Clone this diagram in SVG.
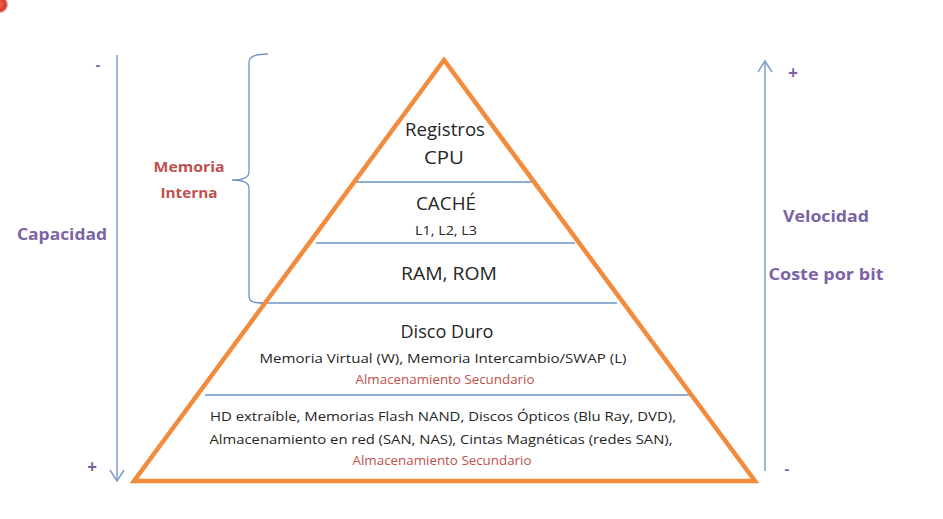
<svg xmlns="http://www.w3.org/2000/svg" width="943" height="519" viewBox="0 0 943 519">
  <style>
    .t { font-family: "Open Sans", "Liberation Sans", sans-serif; fill: #262626; text-anchor: middle; }
    .big { font-size: 17.5px; }
    .mid { font-size: 13.5px; }
    .sm { font-size: 12.5px; }
    .red { font-family: "Open Sans", "Liberation Sans", sans-serif; fill: #C0504D; text-anchor: middle; }
    .pur { font-family: "Open Sans", "Liberation Sans", sans-serif; fill: #7B63A4; font-weight: bold; text-anchor: middle; }
    .sep { stroke: #6F93C6; stroke-width: 1.3; fill: none; }
    .axis { stroke: #7F9FCF; stroke-width: 1.5; fill: none; }
  </style>
  <defs>
    <radialGradient id="dot" cx="0.45" cy="0.45" r="0.6">
      <stop offset="0" stop-color="#f36a50"/>
      <stop offset="0.7" stop-color="#d8372b"/>
      <stop offset="1" stop-color="#f0a090" stop-opacity="0.4"/>
    </radialGradient>
  </defs>

  <rect width="943" height="519" fill="#ffffff"/>

  <!-- pointer dot in the corner -->
  <circle cx="0" cy="5" r="8" fill="url(#dot)"/>

  <!-- axes and the bracket -->
  <g id="connectors">
    <line class="axis" x1="117" y1="55" x2="117" y2="481"/>
    <polyline class="axis" points="110,470 117,481 124,470"/>
    <line class="axis" x1="765" y1="471" x2="765" y2="61"/>
    <polyline class="axis" points="758,72 765,61 772,72"/>
    <path class="sep" d="M268,54 C256,54 249,56 249,62 L249,172 C249,177 245,180 232,180 C245,180 249,183 249,188 L249,296 C249,301 252,303 262,303"/>
  </g>

  <!-- pyramid outline -->
  <g id="pyramid">
    <line class="sep" x1="355" y1="182" x2="535" y2="182"/>
    <line class="sep" x1="316" y1="243" x2="575" y2="243"/>
    <line class="sep" x1="260" y1="303" x2="617" y2="303"/>
    <line class="sep" x1="205" y1="395" x2="690" y2="395"/>
    <polygon points="444,60 134,481 755,481" fill="none" stroke="#F38B3C" stroke-width="4.5" stroke-linejoin="miter"/>
  </g>

  <g id="registros">
    <text class="t big" x="445" y="136" textLength="80" lengthAdjust="spacingAndGlyphs">Registros</text>
    <text class="t big" x="444" y="164" textLength="40" lengthAdjust="spacingAndGlyphs">CPU</text>
  </g>

  <g id="cache">
    <text class="t big" x="446" y="210" textLength="60" lengthAdjust="spacingAndGlyphs">CACHÉ</text>
    <text class="t sm" x="446" y="235" textLength="62" lengthAdjust="spacingAndGlyphs">L1, L2, L3</text>
  </g>

  <g id="ram">
    <text class="t big" x="449" y="280" textLength="96" lengthAdjust="spacingAndGlyphs">RAM, ROM</text>
  </g>

  <g id="disco">
    <text class="t big" x="447" y="338" textLength="93" lengthAdjust="spacingAndGlyphs">Disco Duro</text>
    <text class="t mid" x="443" y="363" textLength="367" lengthAdjust="spacingAndGlyphs">Memoria Virtual (W), Memoria Intercambio/SWAP (L)</text>
    <text class="red sm" x="445" y="384" textLength="179" lengthAdjust="spacingAndGlyphs">Almacenamiento Secundario</text>
  </g>

  <g id="externo">
    <text class="t mid" x="443" y="421" textLength="466" lengthAdjust="spacingAndGlyphs">HD extraíble, Memorias Flash NAND, Discos Ópticos (Blu Ray, DVD),</text>
    <text class="t mid" x="441" y="444" textLength="463" lengthAdjust="spacingAndGlyphs">Almacenamiento en red (SAN, NAS), Cintas Magnéticas (redes SAN),</text>
    <text class="red sm" x="442" y="465" textLength="179" lengthAdjust="spacingAndGlyphs">Almacenamiento Secundario</text>
  </g>

  <g id="memoria-interna">
    <text class="red" font-weight="bold" font-size="14.5" x="189" y="172" textLength="71" lengthAdjust="spacingAndGlyphs">Memoria</text>
    <text class="red" font-weight="bold" font-size="14.5" x="189" y="198" textLength="57" lengthAdjust="spacingAndGlyphs">Interna</text>
  </g>

  <g id="capacidad">
    <text class="pur" font-size="16.5" x="62" y="240" textLength="90" lengthAdjust="spacingAndGlyphs">Capacidad</text>
    <text class="pur" font-size="15" x="98" y="70">-</text>
    <text class="pur" font-size="17" x="92" y="473">+</text>
  </g>

  <g id="velocidad">
    <text class="pur" font-size="16.5" x="826" y="222" textLength="86" lengthAdjust="spacingAndGlyphs">Velocidad</text>
    <text class="pur" font-size="16.5" x="826" y="280" textLength="115" lengthAdjust="spacingAndGlyphs">Coste por bit</text>
    <text class="pur" font-size="17" x="793" y="79">+</text>
    <text class="pur" font-size="15" x="787" y="474">-</text>
  </g>
</svg>
